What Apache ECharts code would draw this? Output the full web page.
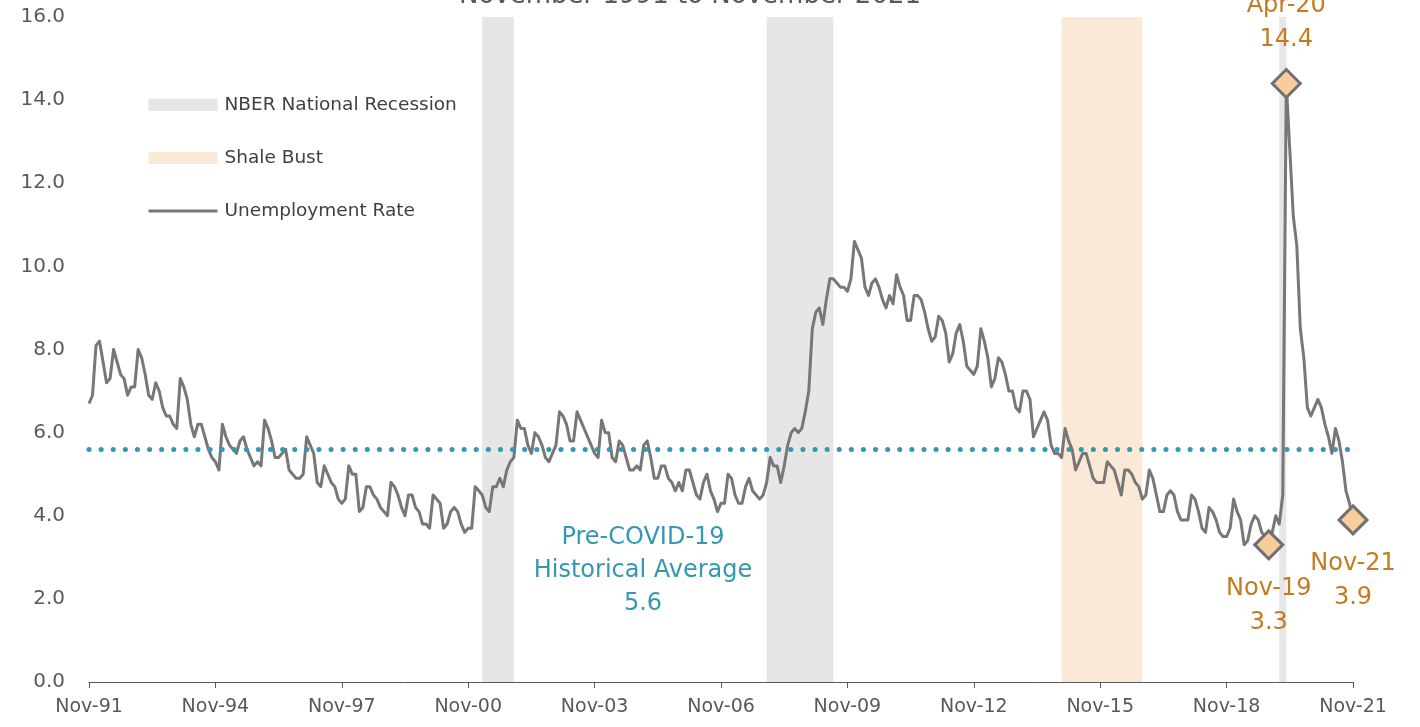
<!DOCTYPE html>
<html>
<head>
<meta charset="utf-8">
<script src="https://cdn.jsdelivr.net/npm/echarts@6/dist/echarts.min.js"></script>
<style>
  html, body { margin: 0; padding: 0; background: #ffffff; }
  #chart { width: 1420px; height: 727px; }
</style>
</head>
<body>
<div id="chart"></div>
<script>
// Monthly unemployment rate, November 1991 through November 2021 (percent)
const startYear = 1991;
const startMonth = 10; // November, zero-based
const monthNames = ['Jan','Feb','Mar','Apr','May','Jun','Jul','Aug','Sep','Oct','Nov','Dec'];

const unemploymentRate = [
  6.7, 6.9, 8.1, 8.2, 7.7, 7.2, 7.3, 8.0, 7.7, 7.4, 7.3, 6.9,
  7.1, 7.1, 8.0, 7.8, 7.4, 6.9, 6.8, 7.2, 7.0, 6.6, 6.4, 6.4,
  6.2, 6.1, 7.3, 7.1, 6.8, 6.2, 5.9, 6.2, 6.2, 5.9, 5.6, 5.4,
  5.3, 5.1, 6.2, 5.9, 5.7, 5.6, 5.5, 5.8, 5.9, 5.6, 5.4, 5.2,
  5.3, 5.2, 6.3, 6.1, 5.8, 5.4, 5.4, 5.5, 5.6, 5.1, 5.0, 4.9,
  4.9, 5.0, 5.9, 5.7, 5.5, 4.8, 4.7, 5.2, 5.0, 4.8, 4.7, 4.4,
  4.3, 4.4, 5.2, 5.0, 5.0, 4.1, 4.2, 4.7, 4.7, 4.5, 4.4, 4.2,
  4.1, 4.0, 4.8, 4.7, 4.5, 4.2, 4.0, 4.5, 4.5, 4.2, 4.1, 3.8,
  3.8, 3.7, 4.5, 4.4, 4.3, 3.7, 3.8, 4.1, 4.2, 4.1, 3.8, 3.6,
  3.7, 3.7, 4.7, 4.6, 4.5, 4.2, 4.1, 4.7, 4.7, 4.9, 4.7, 5.1,
  5.3, 5.4, 6.3, 6.1, 6.1, 5.7, 5.5, 6.0, 5.9, 5.7, 5.4, 5.3,
  5.5, 5.7, 6.5, 6.4, 6.2, 5.8, 5.8, 6.5, 6.3, 6.1, 5.9, 5.7,
  5.5, 5.4, 6.3, 6.0, 6.0, 5.4, 5.3, 5.8, 5.7, 5.4, 5.1, 5.1,
  5.2, 5.1, 5.7, 5.8, 5.4, 4.9, 4.9, 5.2, 5.2, 4.9, 4.8, 4.6,
  4.8, 4.6, 5.1, 5.1, 4.8, 4.5, 4.4, 4.8, 5.0, 4.6, 4.4, 4.1,
  4.3, 4.3, 5.0, 4.9, 4.5, 4.3, 4.3, 4.7, 4.9, 4.6, 4.5, 4.4,
  4.5, 4.8, 5.4, 5.2, 5.2, 4.8, 5.2, 5.7, 6.0, 6.1, 6.0, 6.1,
  6.5, 7.0, 8.5, 8.9, 9.0, 8.6, 9.2, 9.7, 9.7, 9.6, 9.5, 9.5,
  9.4, 9.7, 10.6, 10.4, 10.2, 9.5, 9.3, 9.6, 9.7, 9.5, 9.2, 9.0,
  9.3, 9.1, 9.8, 9.5, 9.3, 8.7, 8.7, 9.3, 9.3, 9.2, 8.9, 8.5,
  8.2, 8.3, 8.8, 8.7, 8.4, 7.7, 7.9, 8.4, 8.6, 8.2, 7.6, 7.5,
  7.4, 7.6, 8.5, 8.2, 7.8, 7.1, 7.3, 7.8, 7.7, 7.4, 7.0, 7.0,
  6.6, 6.5, 7.0, 7.0, 6.8, 5.9, 6.1, 6.3, 6.5, 6.3, 5.7, 5.5,
  5.5, 5.4, 6.1, 5.8, 5.6, 5.1, 5.3, 5.5, 5.5, 5.2, 4.9, 4.8,
  4.8, 4.8, 5.3, 5.2, 5.1, 4.8, 4.5, 5.1, 5.1, 5.0, 4.8, 4.7,
  4.4, 4.5, 5.1, 4.9, 4.5, 4.1, 4.1, 4.5, 4.6, 4.5, 4.1, 3.9,
  3.9, 3.9, 4.5, 4.4, 4.1, 3.7, 3.6, 4.2, 4.1, 3.9, 3.6, 3.5,
  3.5, 3.7, 4.4, 4.1, 3.9, 3.3, 3.4, 3.8, 4.0, 3.9, 3.6, 3.5,
  3.3, 3.6, 4.0, 3.8, 4.5, 14.4, 12.8, 11.2, 10.5, 8.5, 7.8, 6.6,
  6.4, 6.6, 6.8, 6.6, 6.2, 5.9, 5.5, 6.1, 5.8, 5.3, 4.6, 4.3,
  3.9
];

// Shaded periods: [first month, month after the last month]
const nberRecessions = [['Mar-01', 'Dec-01'], ['Dec-07', 'Jul-09'], ['Feb-20', 'Apr-20']];
const shaleBust = [['Dec-14', 'Nov-16']];

// Pre-COVID-19 historical average rate
const preCovidAverage = 5.6;

// Months called out with a diamond and label
const calloutMonths = ['Nov-19', 'Apr-20', 'Nov-21'];
const calloutPlacement = ['bottom', 'top', 'bottom'];

// Month labels along the category axis
const months = unemploymentRate.map(function (v, i) {
  const m = (startMonth + i) % 12;
  const y = startYear + Math.floor((startMonth + i) / 12);
  return monthNames[m] + '-' + String(y % 100).padStart(2, '0');
});

const FONT = 'DejaVu Sans';
const GREY_TEXT = '#595959';
const LINE_GREY = '#777777';
const ORANGE = '#c27c1e';
const TEAL = '#3598b1';

const chart = echarts.init(document.getElementById('chart'), null, { renderer: 'canvas' });

chart.setOption({
  animation: false,
  backgroundColor: '#ffffff',
  textStyle: { fontFamily: FONT },
  grid: { left: 89, right: 67, top: 17, bottom: 45, containLabel: false },
  graphic: [
    {
      type: 'text',
      x: 690,
      y: 9,
      style: {
        text: 'November 1991 to November 2021',
        align: 'center',
        verticalAlign: 'bottom',
        fill: GREY_TEXT,
        font: '26px "' + FONT + '"'
      }
    },
    {
      type: 'text',
      x: 643,
      y: 521,
      style: {
        text: 'Pre-COVID-19\nHistorical Average\n' + preCovidAverage.toFixed(1),
        align: 'center',
        verticalAlign: 'top',
        fill: TEAL,
        font: '24px "' + FONT + '"',
        lineHeight: 33
      }
    }
  ],
  legend: {
    orient: 'vertical',
    left: 142,
    top: 90,
    itemWidth: 69,
    itemHeight: 12,
    itemGap: 33,
    selectedMode: false,
    textStyle: { color: '#404040', fontSize: 18.5, fontFamily: FONT, lineHeight: 20, padding: [0, 0, 0, 2] },
    data: [
      { name: 'NBER National Recession', icon: 'rect' },
      { name: 'Shale Bust', icon: 'rect' },
      { name: 'Unemployment Rate', itemStyle: { opacity: 0 }, lineStyle: { width: 3, color: LINE_GREY } }
    ]
  },
  xAxis: {
    type: 'category',
    data: months,
    boundaryGap: false,
    axisLine: { lineStyle: { color: '#595959', width: 1 } },
    axisTick: { show: true, interval: 35, length: 6, lineStyle: { color: '#595959' } },
    axisLabel: { interval: 35, color: GREY_TEXT, fontSize: 19, fontFamily: FONT, margin: 16 },
    splitLine: { show: false }
  },
  yAxis: {
    type: 'value',
    min: 0,
    max: 16,
    interval: 2,
    axisLine: { show: false },
    axisTick: { show: false },
    splitLine: { show: false },
    axisLabel: {
      color: GREY_TEXT,
      fontSize: 20,
      fontFamily: FONT,
      margin: 24,
      formatter: function (v) { return v.toFixed(1); }
    }
  },
  series: [
    {
      name: 'NBER National Recession',
      type: 'line',
      data: [],
      itemStyle: { color: '#e6e6e6' },
      lineStyle: { color: '#e6e6e6' },
      silent: true,
      z: 1,
      markArea: {
        silent: true,
        itemStyle: { color: '#e6e6e6' },
        data: nberRecessions.map(function (r) { return [{ xAxis: r[0] }, { xAxis: r[1] }]; })
      }
    },
    {
      name: 'Shale Bust',
      type: 'line',
      data: [],
      itemStyle: { color: '#fae9d6' },
      lineStyle: { color: '#fae9d6' },
      silent: true,
      z: 1,
      markArea: {
        silent: true,
        itemStyle: { color: '#fae9d6' },
        data: shaleBust.map(function (r) { return [{ xAxis: r[0] }, { xAxis: r[1] }]; })
      }
    },
    {
      name: 'Pre-COVID Average',
      type: 'line',
      data: [],
      silent: true,
      z: 2,
      markLine: {
        silent: true,
        symbol: 'none',
        label: { show: false },
        lineStyle: { color: TEAL, width: 5, type: [0.1, 12], cap: 'round' },
        data: [{ yAxis: preCovidAverage }]
      }
    },
    {
      name: 'Unemployment Rate',
      type: 'line',
      data: unemploymentRate,
      symbol: 'none',
      smooth: false,
      z: 3,
      itemStyle: { color: LINE_GREY },
      lineStyle: { color: LINE_GREY, width: 3, join: 'round' }
    },
    {
      name: 'Callouts',
      type: 'scatter',
      symbol: 'diamond',
      symbolSize: 28,
      z: 4,
      itemStyle: { color: '#f7ce9b', borderColor: '#707070', borderWidth: 3, opacity: 1 },
      label: {
        show: true,
        color: ORANGE,
        fontSize: 24,
        fontFamily: FONT,
        lineHeight: 34,
        distance: 11,
        opacity: 1,
        formatter: function (p) { return p.name + '\n' + p.value[1].toFixed(1); }
      },
      data: calloutMonths.map(function (name, k) {
        return {
          name: name,
          value: [name, unemploymentRate[months.indexOf(name)]],
          label: { position: calloutPlacement[k] }
        };
      })
    }
  ]
});
</script>
</body>
</html>
